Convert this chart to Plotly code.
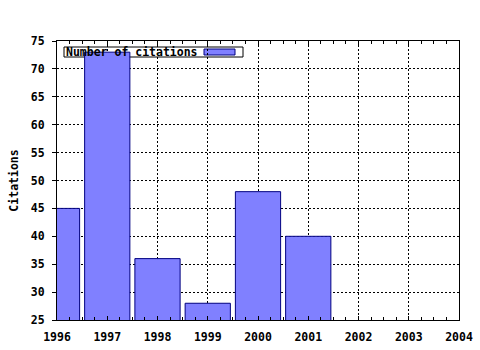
import plotly.graph_objects as go

years = [1996, 1997, 1998, 1999, 2000, 2001]
citations = [45, 73, 36, 28, 48, 40]
series_name = "Number of citations"
y_title = "Citations"

FONT = "DejaVu Sans Mono"

fig = go.Figure()
fig.add_trace(go.Bar(
    x=years, y=citations, name=series_name, width=0.9,
    marker=dict(color="#8080ff", line=dict(color="#000080", width=1)),
    showlegend=False,
))

# legend box (drawn manually: text, then swatch on the right)
fig.add_shape(type="rect", xref="paper", yref="paper",
              x0=(64-57)/402, x1=(243-57)/402, y0=(320-57)/279, y1=(320-47)/279,
              line=dict(color="black", width=1), fillcolor="white", layer="below")
fig.add_shape(type="rect", xref="paper", yref="paper",
              x0=(204-57)/402, x1=(235-57)/402, y0=(320-55)/279, y1=(320-49)/279,
              line=dict(color="#000080", width=1), fillcolor="#8080ff", layer="below")
fig.add_annotation(text="<b>" + series_name + "</b>", xref="paper", yref="paper",
                   x=(64-57)/402, y=(320-52)/279, xanchor="left", yanchor="middle",
                   showarrow=False, font=dict(family=FONT, size=11.5, color="black"))

fig.update_layout(
    width=480, height=350,
    margin=dict(l=57, r=21, t=41, b=30, autoexpand=False),
    paper_bgcolor="white", plot_bgcolor="white",
    font=dict(family=FONT, size=11.5, color="black", weight="bold"),
    bargap=0.1,
    xaxis=dict(
        range=[1996, 2004], dtick=1, tick0=1996, tickformat="d",
        automargin=False,
        showline=True, linecolor="black", linewidth=1, mirror="allticks",
        ticks="inside", ticklen=4, tickcolor="black",
        ticklabelstandoff=6,
        minor=dict(dtick=0.25, ticks="inside", ticklen=3, tickcolor="black", showgrid=False),
        showgrid=True, gridcolor="black", gridwidth=1, griddash="2px,2px",
        zeroline=False, tickfont=dict(family=FONT, size=11.5, weight="bold"),
    ),
    yaxis=dict(
        range=[25, 75], dtick=5, tick0=25,
        automargin=False,
        showline=True, linecolor="black", linewidth=1, mirror=True,
        ticks="outside", ticklen=4, tickcolor="black",
        ticklabelstandoff=5,
        showgrid=True, gridcolor="black", gridwidth=1, griddash="2px,2px",
        zeroline=False, tickfont=dict(family=FONT, size=11.5, weight="bold"),
        title=dict(text="<b>" + y_title + "</b>", standoff=9,
                   font=dict(family=FONT, size=11.5)),
    ),
)

fig.write_html("out.html")
